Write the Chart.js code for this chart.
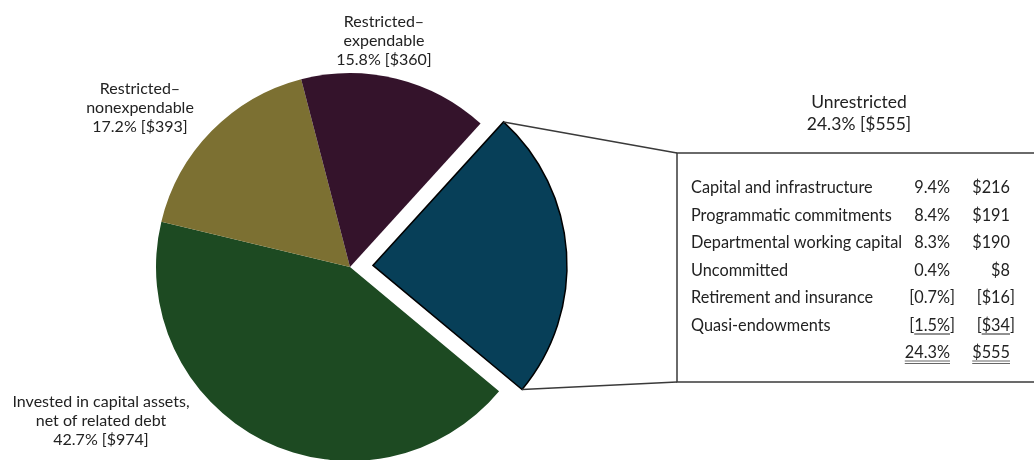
<!DOCTYPE html>
<html>
<head>
<meta charset="utf-8">
<script src="https://cdn.jsdelivr.net/npm/chart.js@4"></script>
<style>
  body{ margin:0; background:#fff; }
  .wrap{ width:1034px; height:460px; position:relative; }
</style>
</head>
<body>
<div class="wrap"><canvas id="chart"></canvas></div>
<script>
// slice data, clockwise starting from the exploded slice
let categories = ["Unrestricted", "Invested in capital assets, net of related debt", "Restricted–nonexpendable", "Restricted–expendable"];
let percents = [24.3, 42.7, 17.2, 15.8];
let dollars = [555, 974, 393, 360];
let sliceColors = ["#073f58", "#1d4a22", "#7c7032", "#34132b"];

// breakdown of the unrestricted slice
let detailLabels = ["Capital and infrastructure", "Programmatic commitments", "Departmental working capital", "Uncommitted", "Retirement and insurance", "Quasi-endowments"];
let detailPct = [9.4, 8.4, 8.3, 0.4, -0.7, -1.5];
let detailDollars = [216, 191, 190, 8, -16, -34];

let FONT = "Lato, 'Liberation Sans', sans-serif";
let TEXT = "#222";

// label lines for the slices (index matches categories)
let labelLines = [
  ["Unrestricted"],
  ["Invested in capital assets,", "net of related debt"],
  ["Restricted–", "nonexpendable"],
  ["Restricted–", "expendable"]
];
let labelPos = [
  {x: 859, y: 102},
  {x: 101, y: 402},
  {x: 140, y: 89},
  {x: 384, y: 22}
];

let box = {left: 677, top: 153, right: 1040, bottom: 382};

function fmtPct(v){ return Math.abs(v).toFixed(1) + "%"; }
function fmtDollar(v){ return "$" + Math.abs(v); }

function drawValue(ctx, v, text, x, y, underline){
  let w = ctx.measureText(text).width;
  ctx.textAlign = "right";
  ctx.fillText(text, x, y);
  if(v < 0){
    ctx.fillText("[", x - w, y);
    ctx.textAlign = "left";
    ctx.fillText("]", x, y);
  }
  if(underline){
    ctx.beginPath();
    ctx.moveTo(x - w, y + 8.5);
    ctx.lineTo(x, y + 8.5);
    ctx.stroke();
  }
  return w;
}

let annotations = {
  id: "annotations",
  afterDraw: function(chart){
    let ctx = chart.ctx;
    let arc = chart.getDatasetMeta(0).data[0];
    let off = (arc.options.offset || 0) / 4;
    let half = (arc.startAngle + arc.endAngle) / 2;
    let cx = arc.x + Math.cos(half) * off;
    let cy = arc.y + Math.sin(half) * off;
    let r = arc.outerRadius;
    let p1 = {x: cx + Math.cos(arc.startAngle) * r, y: cy + Math.sin(arc.startAngle) * r};
    let p2 = {x: cx + Math.cos(arc.endAngle) * r, y: cy + Math.sin(arc.endAngle) * r};

    ctx.save();
    // connector lines and the breakdown box
    ctx.strokeStyle = "#3a3a3a";
    ctx.lineWidth = 1.5;
    ctx.beginPath();
    ctx.moveTo(p1.x, p1.y);
    ctx.lineTo(box.left, box.top);
    ctx.moveTo(p2.x, p2.y);
    ctx.lineTo(box.left, box.bottom);
    ctx.stroke();
    ctx.strokeRect(box.left, box.top, box.right - box.left, box.bottom - box.top);

    // slice labels
    ctx.fillStyle = TEXT;
    ctx.textBaseline = "middle";
    ctx.textAlign = "center";
    labelLines.forEach(function(lines, i){
      let all = lines.concat([percents[i].toFixed(1) + "% [$" + dollars[i] + "]"]);
      let step = i === 0 ? 22 : 18.8;
      ctx.font = (i === 0 ? "17.5px " : "16px ") + FONT;
      all.forEach(function(t, k){
        ctx.fillText(t, labelPos[i].x, labelPos[i].y + k * step);
      });
    });

    // breakdown rows
    ctx.font = "16.3px " + FONT;
    ctx.strokeStyle = TEXT;
    ctx.lineWidth = 1;
    let rowY = 188, rowStep = 27.5;
    let pctX = 950, dolX = 1010;
    detailLabels.forEach(function(label, i){
      let y = rowY + i * rowStep;
      let last = i === detailLabels.length - 1;
      ctx.textAlign = "left";
      ctx.fillText(label, 691, y);
      drawValue(ctx, detailPct[i], fmtPct(detailPct[i]), pctX, y, last);
      drawValue(ctx, detailDollars[i], fmtDollar(detailDollars[i]), dolX, y, last);
    });

    // totals with double underline
    let ty = rowY + detailLabels.length * rowStep;
    [[fmtPct(percents[0]), pctX], [fmtDollar(dollars[0]), dolX]].forEach(function(t){
      ctx.textAlign = "right";
      ctx.fillText(t[0], t[1], ty);
      let w = ctx.measureText(t[0]).width;
      ctx.strokeStyle = "#666";
      ctx.beginPath();
      ctx.moveTo(t[1] - w, ty + 8); ctx.lineTo(t[1], ty + 8);
      ctx.moveTo(t[1] - w, ty + 10.5); ctx.lineTo(t[1], ty + 10.5);
      ctx.stroke();
    });
    ctx.restore();
  }
};

let chart = new Chart(document.getElementById("chart"), {
  type: "pie",
  data: {
    labels: categories,
    datasets: [{
      data: percents,
      backgroundColor: sliceColors,
      borderColor: ["#000", "#fff", "#fff", "#fff"],
      borderWidth: [1.5, 0, 0, 0],
      borderJoinStyle: "miter",
      offset: [92, 0, 0, 0],
      hoverOffset: 0
    }]
  },
  options: {
    responsive: true,
    maintainAspectRatio: false,
    animation: false,
    rotation: 42.3,
    radius: 194,
    layout: { padding: { left: 156, right: 490, top: 74, bottom: 0 } },
    plugins: {
      legend: { display: false },
      tooltip: { enabled: false }
    }
  },
  plugins: [annotations]
});
</script>
</body>
</html>
